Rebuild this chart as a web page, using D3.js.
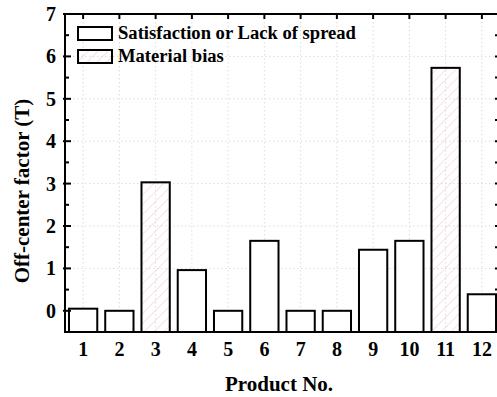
<!DOCTYPE html>
<html>
<head>
<meta charset="utf-8">
<script src="https://cdn.jsdelivr.net/npm/d3@7"></script>
<style>
  html, body { margin: 0; padding: 0; background: #fff; }
  svg { display: block; }
</style>
</head>
<body>
<div id="chart"></div>
<script>
// data
const products = ["1", "2", "3", "4", "5", "6", "7", "8", "9", "10", "11", "12"];
const offCenter = [0.05, 0.0, 3.03, 0.96, 0.0, 1.65, 0.0, 0.0, 1.44, 1.65, 5.73, 0.39];
const category = ["sat", "sat", "bias", "sat", "sat", "sat", "sat", "sat", "sat", "sat", "bias", "sat"];
const yTicks = [0, 1, 2, 3, 4, 5, 6, 7];
const legendLabels = ["Satisfaction or Lack of spread", "Material bias"];

const W = 497, H = 397;
const pLeft = 65, pRight = 500, pTop = 14, pBottom = 332;
const font = "'Liberation Serif', 'Times New Roman', serif";

const svg = d3.select("#chart").append("svg")
  .attr("width", W).attr("height", H);

const defs = svg.append("defs");
const pat = defs.append("pattern")
  .attr("id", "hatch")
  .attr("patternUnits", "userSpaceOnUse")
  .attr("width", 7).attr("height", 7)
  .attr("patternTransform", "rotate(45)");
pat.append("line")
  .attr("x1", 0).attr("y1", 0).attr("x2", 0).attr("y2", 7)
  .attr("stroke", "#f2c4ca").attr("stroke-width", 1);

const x = d3.scaleBand()
  .domain(products)
  .range([pLeft, pRight])
  .paddingInner(0.22)
  .paddingOuter(0.11);

const y = d3.scaleLinear()
  .domain([-0.5, 7])
  .range([pBottom, pTop]);

const cx = d => x(d) + x.bandwidth() / 2;

// grid
svg.append("g").selectAll("line")
  .data(yTicks.filter(t => t > 0 && t < 7))
  .enter().append("line")
  .attr("x1", pLeft).attr("x2", pRight)
  .attr("y1", d => y(d)).attr("y2", d => y(d))
  .attr("stroke", "#dcdcdc").attr("stroke-dasharray", "1.5,2.5");

svg.append("g").selectAll("line")
  .data(products)
  .enter().append("line")
  .attr("x1", d => cx(d)).attr("x2", d => cx(d))
  .attr("y1", pTop).attr("y2", pBottom)
  .attr("stroke", "#dcdcdc").attr("stroke-dasharray", "1.5,2.5");

// bars
svg.append("g").selectAll("rect")
  .data(products)
  .enter().append("rect")
  .attr("x", d => x(d))
  .attr("width", x.bandwidth())
  .attr("y", (d, i) => y(offCenter[i]))
  .attr("height", (d, i) => y(-0.5) - y(offCenter[i]))
  .attr("fill", (d, i) => category[i] === "bias" ? "url(#hatch)" : "#fff")
  .attr("stroke", "#000")
  .attr("stroke-width", 2);

// frame
svg.append("rect")
  .attr("x", pLeft).attr("y", pTop)
  .attr("width", pRight - pLeft).attr("height", pBottom - pTop)
  .attr("fill", "none").attr("stroke", "#000").attr("stroke-width", 2);

// left axis
const minor = d3.range(-0.5, 7, 0.5).filter(v => !yTicks.includes(v) && v > -0.5);
const gl = svg.append("g")
  .attr("transform", `translate(${pLeft},0)`)
  .call(d3.axisLeft(y).tickValues(yTicks).tickSize(0).tickPadding(9).tickFormat(d3.format("d")));
gl.select(".domain").remove();
gl.selectAll("text")
  .attr("font-family", font).attr("font-size", "20px").attr("font-weight", "bold")
  .attr("fill", "#000");

svg.append("g").selectAll("line")
  .data(yTicks)
  .enter().append("line")
  .attr("x1", pLeft - 2).attr("x2", pLeft + 6)
  .attr("y1", d => y(d)).attr("y2", d => y(d))
  .attr("stroke", "#000").attr("stroke-width", 2);
svg.append("g").selectAll("line")
  .data(minor)
  .enter().append("line")
  .attr("x1", pLeft).attr("x2", pLeft + 4)
  .attr("y1", d => y(d)).attr("y2", d => y(d))
  .attr("stroke", "#000").attr("stroke-width", 2);

// right axis ticks (inward)
svg.append("g").selectAll("line")
  .data(minor.concat(yTicks))
  .enter().append("line")
  .attr("x1", pRight - 5).attr("x2", pRight)
  .attr("y1", d => y(d)).attr("y2", d => y(d))
  .attr("stroke", "#000").attr("stroke-width", 2);

// top ticks
svg.append("g").selectAll("line")
  .data(products)
  .enter().append("line")
  .attr("x1", d => cx(d)).attr("x2", d => cx(d))
  .attr("y1", pTop).attr("y2", pTop + 5)
  .attr("stroke", "#000").attr("stroke-width", 2);

// bottom axis
const gb = svg.append("g")
  .attr("transform", `translate(0,${pBottom})`)
  .call(d3.axisBottom(x).tickSize(0).tickPadding(10));
gb.select(".domain").remove();
gb.selectAll("text")
  .attr("font-family", font).attr("font-size", "20px").attr("font-weight", "bold")
  .attr("fill", "#000");

// axis titles
svg.append("text")
  .attr("x", 279).attr("y", 391)
  .attr("text-anchor", "middle")
  .attr("font-family", font).attr("font-size", "21px").attr("font-weight", "bold")
  .text("Product No.");

svg.append("text")
  .attr("transform", `translate(29,191) rotate(-90)`)
  .attr("text-anchor", "middle")
  .attr("font-family", font).attr("font-size", "21px").attr("font-weight", "bold")
  .text("Off-center factor (T)");

// legend
const leg = svg.append("g");
legendLabels.forEach((lab, i) => {
  const ly = 27 + i * 23;
  leg.append("rect")
    .attr("x", 78).attr("y", ly)
    .attr("width", 34).attr("height", 13)
    .attr("fill", i === 1 ? "url(#hatch)" : "#fff")
    .attr("stroke", "#000").attr("stroke-width", 2);
  leg.append("text")
    .attr("x", 118).attr("y", ly + 12)
    .attr("font-family", font).attr("font-size", "18.6px").attr("font-weight", "bold")
    .text(lab);
});
</script>
</body>
</html>
